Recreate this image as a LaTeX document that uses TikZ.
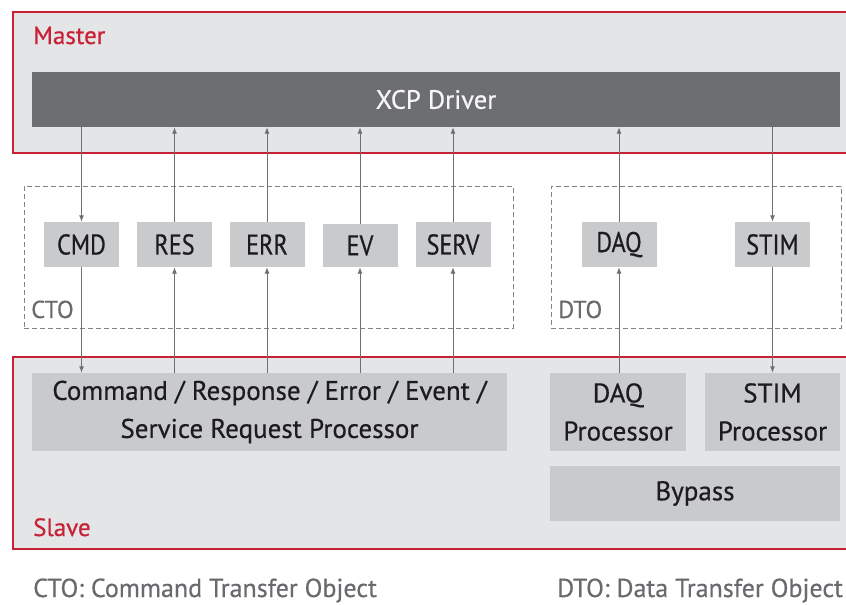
\documentclass[tikz,border=0pt]{standalone}
\usepackage{fontspec}
\setmainfont{PT Sans}[FakeBold=0.5]
\newfontfamily\capsfont{PT Sans}[FakeStretch=0.85,FakeBold=0.5]
\usetikzlibrary{arrows.meta}
\definecolor{redline}{RGB}{200,32,52}
\definecolor{panelfill}{RGB}{228,229,231}
\definecolor{boxfill}{RGB}{201,202,204}
\definecolor{darkbar}{RGB}{109,110,113}
\definecolor{arrowgray}{RGB}{110,111,114}
\definecolor{dashgray}{RGB}{130,131,134}
\definecolor{textdark}{RGB}{28,28,30}
\definecolor{labelgray}{RGB}{105,106,109}
\tikzset{
  panel/.style={fill=panelfill, draw=redline, line width=2pt, inner sep=0pt},
  bar/.style={fill=darkbar, inner sep=0pt, text=white!94!darkbar, font=\fontsize{26.5}{30}\selectfont},
  objbox/.style={fill=boxfill, inner sep=0pt, text=textdark, minimum width=75, minimum height=45, font=\capsfont\fontsize{28.5}{30}\selectfont},
  procbox/.style={fill=boxfill, inner sep=0pt, text=textdark, align=center, font=\fontsize{27}{38}\selectfont},
  group/.style={draw=dashgray, line width=0.9pt, dash pattern=on 5pt off 3pt, inner sep=0pt, minimum height=142},
  grouplabel/.style={text=labelgray, inner sep=0pt, anchor=base west, font=\fontsize{24.5}{28}\selectfont},
  redlabel/.style={text=redline, inner sep=0pt, anchor=base west, font=\fontsize{25}{28}\selectfont},
  footer/.style={text=labelgray, inner sep=0pt, anchor=base west, font=\fontsize{26}{28}\selectfont},
  arr/.style={draw=arrowgray, line width=0.9pt, -{Latex[length=6.5pt,width=5pt]}}
}
\begin{document}
\begin{tikzpicture}[x=1pt,y=-1pt]
\useasboundingbox (0,0) rectangle (846,605);
\clip (0,0) rectangle (846,605);

% Master / Slave panels
\node[panel, minimum width=849, minimum height=141] (master) at (437.5,82.5) {};
\node[redlabel] (masterlabel) at (33,44) {Master};
\node[bar, minimum width=808, minimum height=55] (xcp) at (436,99.5) {XCP Driver};

\node[panel, minimum width=849, minimum height=192] (slave) at (437.5,453) {};
\node[redlabel] (slavelabel) at (33,536) {Slave};

% CTO / DTO groups
\node[group, minimum width=489] (cto) at (268.5,257) {};
\node[grouplabel] (ctolabel) at (31,318) {CTO};
\node[group, minimum width=290] (dto) at (696,257) {};
\node[grouplabel] (dtolabel) at (558,318) {DTO};

% object boxes
\node[objbox] (cmd) at (81.5,244.5) {CMD};
\node[objbox] (res) at (174.5,244.5) {RES};
\node[objbox] (err) at (267,244.5) {ERR};
\node[objbox, minimum height=43] (ev) at (360,245.5) {EV};
\node[objbox] (serv) at (453,244.5) {SERV};
\node[objbox] (daq) at (619,244.5) {DAQ};
\node[objbox] (stim) at (772.5,244.5) {STIM};

% processors
\node[procbox, minimum width=475, minimum height=78] (crp) at (269.5,412) {Command / Response / Error / Event /\\Service Request Processor};
\node[procbox, minimum width=136, minimum height=78] (daqp) at (618,412) {DAQ\\Processor};
\node[procbox, minimum width=135, minimum height=78] (stimp) at (772.5,412) {STIM\\Processor};
\node[procbox, minimum width=290, minimum height=55] (bypass) at (695,493.5) {Bypass};

% footers
\node[footer] (ctofoot) at (33,597) {CTO: Command Transfer Object};
\node[footer] (dtofoot) at (557,597) {DTO: Data Transfer Object};

% connectors
\draw[arr] (cmd.north |- xcp.south) -- (cmd.north);
\draw[arr] (cmd.south) -- (cmd.south |- crp.north);
\foreach \n in {res,err,ev,serv}{
  \draw[arr] (\n.south |- crp.north) -- (\n.south);
  \draw[arr] (\n.north) -- (\n.north |- xcp.south);
}
\draw[arr] (daq.south |- daqp.north) -- (daq.south);
\draw[arr] (daq.north) -- (daq.north |- xcp.south);
\draw[arr] (stim.north |- xcp.south) -- (stim.north);
\draw[arr] (stim.south) -- (stim.south |- stimp.north);
\end{tikzpicture}
\end{document}
